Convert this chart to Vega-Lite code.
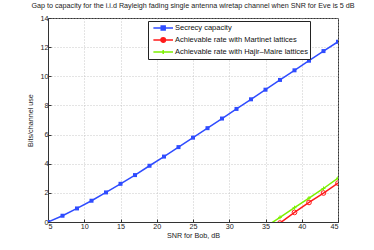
{
  "$schema": "https://vega.github.io/schema/vega-lite/v6.json",
  "width": 290,
  "height": 204,
  "autosize": {"type": "none"},
  "padding": {"left": 48, "top": 18, "right": 36, "bottom": 28},
  "background": "white",
  "title": {
    "text": "Gap to capacity for the i.i.d Rayleigh fading single antenna wiretap channel when SNR for Eve is 5 dB",
    "font": "Liberation Sans",
    "fontSize": 7.2,
    "fontWeight": "normal",
    "color": "#222",
    "offset": 5
  },
  "config": {
    "view": {"stroke": "#333", "strokeWidth": 1},
    "legend": {"strokeColor": "#222", "fillColor": "white", "strokeWidth": 1},
    "axis": {
      "labelFont": "Liberation Sans",
      "labelFontSize": 7.2,
      "labelColor": "#222",
      "titleFont": "Liberation Sans",
      "titleFontSize": 7.2,
      "titleFontWeight": "normal",
      "titleColor": "#222",
      "domainColor": "#333",
      "tickColor": "#333",
      "gridColor": "#bbb",
      "gridDash": [1, 2],
      "gridWidth": 0.8
    }
  },
  "data": {
    "values": [
      {"snr": 5, "rate": 0, "series": "Secrecy capacity"},
      {"snr": 7, "rate": 0.43, "series": "Secrecy capacity"},
      {"snr": 9, "rate": 0.93, "series": "Secrecy capacity"},
      {"snr": 11, "rate": 1.46, "series": "Secrecy capacity"},
      {"snr": 13, "rate": 2.03, "series": "Secrecy capacity"},
      {"snr": 15, "rate": 2.62, "series": "Secrecy capacity"},
      {"snr": 17, "rate": 3.22, "series": "Secrecy capacity"},
      {"snr": 19, "rate": 3.86, "series": "Secrecy capacity"},
      {"snr": 21, "rate": 4.49, "series": "Secrecy capacity"},
      {"snr": 23, "rate": 5.14, "series": "Secrecy capacity"},
      {"snr": 25, "rate": 5.79, "series": "Secrecy capacity"},
      {"snr": 27, "rate": 6.44, "series": "Secrecy capacity"},
      {"snr": 29, "rate": 7.10, "series": "Secrecy capacity"},
      {"snr": 31, "rate": 7.76, "series": "Secrecy capacity"},
      {"snr": 33, "rate": 8.42, "series": "Secrecy capacity"},
      {"snr": 35, "rate": 9.08, "series": "Secrecy capacity"},
      {"snr": 37, "rate": 9.75, "series": "Secrecy capacity"},
      {"snr": 39, "rate": 10.41, "series": "Secrecy capacity"},
      {"snr": 41, "rate": 11.07, "series": "Secrecy capacity"},
      {"snr": 43, "rate": 11.73, "series": "Secrecy capacity"},
      {"snr": 45, "rate": 12.37, "series": "Secrecy capacity"},
      {"snr": 35, "rate": -0.75, "series": "Achievable rate with Martinet lattices"},
      {"snr": 37, "rate": -0.07, "series": "Achievable rate with Martinet lattices"},
      {"snr": 39, "rate": 0.66, "series": "Achievable rate with Martinet lattices"},
      {"snr": 41, "rate": 1.34, "series": "Achievable rate with Martinet lattices"},
      {"snr": 43, "rate": 1.99, "series": "Achievable rate with Martinet lattices"},
      {"snr": 45, "rate": 2.67, "series": "Achievable rate with Martinet lattices"},
      {"snr": 35, "rate": -0.34, "series": "Achievable rate with Hajir–Maire lattices"},
      {"snr": 37, "rate": 0.32, "series": "Achievable rate with Hajir–Maire lattices"},
      {"snr": 39, "rate": 0.98, "series": "Achievable rate with Hajir–Maire lattices"},
      {"snr": 41, "rate": 1.64, "series": "Achievable rate with Hajir–Maire lattices"},
      {"snr": 43, "rate": 2.30, "series": "Achievable rate with Hajir–Maire lattices"},
      {"snr": 45, "rate": 3.01, "series": "Achievable rate with Hajir–Maire lattices"}
    ]
  },
  "encoding": {
    "x": {
      "field": "snr", "type": "quantitative",
      "scale": {"domain": [5, 45], "nice": false, "zero": false},
      "axis": {"title": "SNR for Bob, dB", "values": [5, 10, 15, 20, 25, 30, 35, 40, 45], "tickSize": -3, "labelPadding": 3, "titlePadding": 2, "grid": true}
    },
    "y": {
      "field": "rate", "type": "quantitative",
      "scale": {"domain": [0, 14], "nice": false},
      "axis": {"title": "Bits/channel use", "values": [0, 2, 4, 6, 8, 10, 12, 14], "tickSize": -3, "labelPadding": 3, "titlePadding": 6, "grid": true}
    },
    "color": {
      "field": "series", "type": "nominal",
      "scale": {
        "domain": ["Secrecy capacity", "Achievable rate with Martinet lattices", "Achievable rate with Hajir–Maire lattices"],
        "range": ["#2f4cff", "#ff1a1a", "#7cf000"]
      },
      "legend": {
        "title": null,
        "orient": "none",
        "legendX": 100,
        "legendY": 3,
        "strokeColor": "#222",
        "fillColor": "white",
        "padding": 1.5,
        "rowPadding": 1,
        "symbolSize": 81,
        "labelOffset": 14.5,
        "labelFont": "Liberation Sans",
        "labelFontSize": 7.5,
        "labelColor": "#111",
        "labelLimit": 300,
        "symbolStrokeWidth": 1.5,
        "encode": {
          "legend": {
            "update": {
              "width": {"value": 163},
              "height": {"value": 32},
              "stroke": {"value": "#222"},
              "strokeWidth": {"value": 1},
              "fill": {"value": "white"}
            }
          },
          "symbols": {
            "update": {
              "shape": {"signal": "datum.value === 'Secrecy capacity' ? 'M-0.36,0H4M1.38,-0.44H2.26V0.44H1.38Z' : (datum.value === 'Achievable rate with Martinet lattices' ? 'M-0.36,0H4M2.32,0A0.5,0.5 0 1,1 1.32,0A0.5,0.5 0 1,1 2.32,0Z' : 'M-0.36,0H4M1.82,-0.44V0.44')"},
              "fill": {"signal": "datum.value === 'Secrecy capacity' ? '#2f4cff' : 'transparent'"},
              "stroke": {"scale": "color", "field": "value"},
              "strokeWidth": {"value": 1.5},
              "size": {"value": 81},
              "opacity": {"value": 1}
            }
          }
        }
      }
    }
  },
  "layer": [
    {
      "mark": {"type": "line", "strokeWidth": 1.5, "clip": true}
    },
    {
      "transform": [{"filter": "datum.series === 'Secrecy capacity'"}],
      "mark": {"type": "point", "clip": true, "shape": "square", "filled": true, "size": 16, "opacity": 1}
    },
    {
      "transform": [{"filter": "datum.series === 'Achievable rate with Martinet lattices'"}],
      "mark": {"type": "point", "clip": true, "shape": "circle", "filled": false, "size": 22, "strokeWidth": 1, "opacity": 1}
    },
    {
      "transform": [{"filter": "datum.series === 'Achievable rate with Hajir–Maire lattices'"}],
      "mark": {"type": "point", "clip": true, "shape": "M-1,0H1M0,-1V1", "filled": false, "size": 16, "strokeWidth": 1, "opacity": 1}
    }
  ]
}
